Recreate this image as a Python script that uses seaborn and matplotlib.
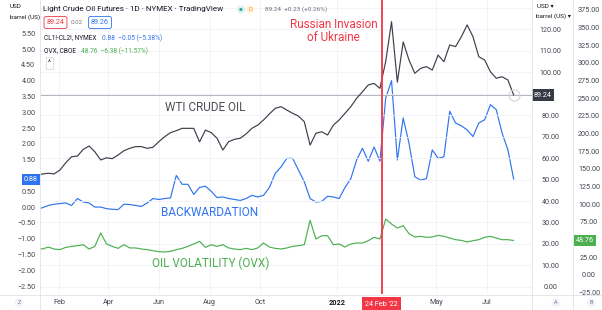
import numpy as np
import pandas as pd
import seaborn as sns
import matplotlib.pyplot as plt
from matplotlib.lines import Line2D
from matplotlib import transforms

W, H = 602, 310

# weekly closes (Tuesdays)
dates = pd.date_range("2021-01-05", "2022-08-02", freq="W-TUE")
wti = [51.6, 52.6, 52.9, 52.6, 54.4, 57.8, 60.6, 60.9, 64.0, 65.6,
       62.9, 59.1, 60.1, 59.7, 61.4, 63.4, 64.5, 65.3, 65.3, 64.5,
       65.0, 67.6, 69.9, 71.8, 72.7, 73.8, 73.8, 73.8, 67.5, 73.0,
       71.8, 69.2, 63.7, 67.6, 68.7, 69.2, 71.2, 73.8, 75.3, 77.7,
       80.5, 83.1, 83.9, 82.3, 80.8, 79.5, 76.9, 66.0, 71.5, 72.2,
       70.7, 75.3, 77.7, 80.8, 83.9, 87.8, 90.8, 94.0, 94.7, 92.4,
       105.0, 123.4, 95.3, 114.0, 105.6, 99.4, 101.7, 102.5, 100.9, 107.9,
       104.8, 112.6, 111.8, 116.4, 121.9, 116.4, 107.1, 105.6, 100.1, 97.1,
       97.8, 96.3, 89.24]
spread = [-0.08, -0.02, 0.05, 0.09, 0.11, 0.13, 0.05, 0.27, 0.16, 0.13,
          0.00, 0.00, -0.05, -0.07, -0.08, 0.09, 0.08, 0.05, 0.02, 0.13,
          0.27, 0.24, 0.27, 0.29, 1.00, 0.72, 0.72, 0.40, 0.62, 0.66,
          0.50, 0.30, 0.32, 0.27, 0.24, 0.21, 0.27, 0.37, 0.32, 0.37,
          0.62, 1.06, 1.27, 1.54, 1.54, 1.17, 0.80, 0.27, 0.16, 0.18,
          0.34, 0.32, 0.27, 0.62, 0.90, 1.49, 1.86, 1.45, 1.90, 1.45,
          3.45, 4.00, 1.49, 2.82, 2.02, 0.96, 0.85, 0.90, 1.81, 1.54,
          1.59, 3.03, 2.66, 2.57, 2.44, 2.23, 2.66, 2.76, 3.24, 3.08,
          2.34, 1.81, 0.88]
ovx = [38.2, 36.7, 39.5, 36.7, 35.8, 39.0, 40.4, 41.4, 42.8, 36.7,
       40.4, 59.4, 43.8, 40.4, 37.6, 42.8, 38.2, 38.2, 36.7, 35.8,
       34.3, 32.9, 32.5, 33.4, 35.8, 37.6, 40.4, 43.8, 47.5, 39.0,
       42.8, 40.4, 42.8, 38.2, 36.7, 35.8, 37.6, 35.8, 38.2, 45.2,
       39.5, 37.6, 36.7, 38.2, 40.4, 41.4, 42.8, 77.2, 50.9, 55.4,
       55.5, 42.8, 43.8, 39.5, 43.8, 45.2, 45.2, 48.5, 53.2, 50.9,
       79.0, 72.0, 66.4, 69.7, 58.4, 53.7, 54.6, 53.2, 53.7, 56.0,
       54.6, 52.3, 49.9, 48.9, 46.6, 48.5, 49.9, 53.2, 54.6, 52.3,
       49.9, 49.9, 48.76]

invasion = pd.Timestamp("2022-02-24")
month_ticks = ["2021-02-01", "2021-04-01", "2021-06-01", "2021-08-01",
               "2021-10-01", "2022-01-01", "2022-05-01", "2022-07-01"]
month_labels = ["Feb", "Apr", "Jun", "Aug", "Oct", "2022", "May", "Jul"]

DARK = "#3c3f48"
BLUE = "#2e74f0"
GREEN = "#4caf50"
RED = "#f23645"
TXT = "#434651"
GRID = "#eef1f6"
SEP = "#e0e3eb"

sns.set_theme(style="white")
plt.rcParams["font.family"] = ["Roboto", "DejaVu Sans"]

df = pd.DataFrame({"date": dates, "wti": wti, "spread": spread, "ovx": ovx})

fig = plt.figure(figsize=(W / 100, H / 100), dpi=100)
ax = fig.add_axes([40 / W, 16 / H, 492 / W, 294 / H])
axA = ax.twinx()
axB = ax.twinx()

sns.lineplot(data=df, x="date", y="spread", ax=ax, color=BLUE, linewidth=0.85)
sns.lineplot(data=df, x="date", y="wti", ax=axA, color=DARK, linewidth=0.85)
sns.lineplot(data=df, x="date", y="ovx", ax=axB, color=GREEN, linewidth=0.85)

ax.set_xlim(pd.Timestamp("2021-01-09"), pd.Timestamp("2022-08-24"))
ax.set_ylim(-2.75, 6.55)
axA.set_ylim(-3.26, 133.5)
axB.set_ylim(-26.9, 388.7)

def fmt(v):
    return f"{v:.2f}".replace("-", "\u2212")

# left scale (spread)
lt = np.arange(-2.5, 6.51, 0.5)
ax.set_yticks(lt, ["" if round(v, 2) in (1.0, 6.0, 6.5) else fmt(v) for v in lt])
ax.tick_params(axis="y", length=0, pad=3.4, labelsize=5.2, labelcolor=TXT)

# right scale A (WTI)
at = np.arange(0, 131, 10)
axA.set_yticks(at, ["" if v in (90, 130) else fmt(v) for v in at], ha="center")
axA.tick_params(axis="y", length=0, pad=13.3, labelsize=5.2, labelcolor=TXT)

# right scale B (OVX), spine offset in points (41 px)
axB.spines["right"].set_position(("outward", 29.5))
bt = np.arange(-25, 376, 25)
axB.set_yticks(bt, ["" if v == 50 else fmt(v) for v in bt], ha="center")
axB.tick_params(axis="y", length=0, pad=11.5, labelsize=5.2, labelcolor=TXT)

ax.set_xticks(pd.to_datetime(month_ticks), month_labels)
ax.tick_params(axis="x", length=0, pad=3.5, labelsize=5.2, labelcolor=TXT)
for lbl in ax.get_xticklabels():
    if lbl.get_text() == "2022":
        lbl.set_fontweight("bold")
        lbl.set_color("#131722")

for a in (ax, axA, axB):
    a.set_xlabel("")
    a.set_ylabel("")
    for s in a.spines.values():
        s.set_visible(False)

ax.xaxis.grid(True, color=GRID, linewidth=0.6)
axA.yaxis.grid(True, color=GRID, linewidth=0.6)
axA.set_axisbelow(True)

# last price line + marker
axA.axhline(wti[-1], color="#b2b5be", linewidth=0.7, zorder=1)
axA.plot(dates[-1], wti[-1], marker="o", ms=8, mfc="none", mec="#d1d4dc", mew=0.8)
axB.axvline(invasion, color=RED, linewidth=1.3)

# value boxes on the scales
tl = transforms.blended_transform_factory(fig.transFigure, ax.transData)
ax.text(38 / W, spread[-1], fmt(spread[-1]), transform=tl, ha="right", va="center",
        color="white", fontsize=5.2, bbox=dict(boxstyle="square,pad=0.3", fc=BLUE, ec="none"))
ta = transforms.blended_transform_factory(fig.transFigure, axA.transData)
axA.text(534 / W, wti[-1], fmt(wti[-1]), transform=ta, ha="left", va="center",
         color="white", fontsize=5.2, bbox=dict(boxstyle="square,pad=0.3", fc="#363a45", ec="none"))
tb = transforms.blended_transform_factory(fig.transFigure, axB.transData)
axB.text(576 / W, ovx[-1], fmt(ovx[-1]), transform=tb, ha="left", va="center",
         color="white", fontsize=5.2, bbox=dict(boxstyle="square,pad=0.3", fc=GREEN, ec="none"))
tx = transforms.blended_transform_factory(ax.transData, fig.transFigure)
ax.text(invasion, 1 - 304 / H, "24 Feb '22", transform=tx, ha="center", va="center",
        color="white", fontsize=5.2, bbox=dict(boxstyle="square,pad=0.45", fc=RED, ec="none"))

# panel separators
for x in (40, 532, 573):
    fig.add_artist(Line2D([x / W, x / W], [0, 1], transform=fig.transFigure, color=SEP, lw=0.6))
fig.add_artist(Line2D([0, 1], [1 - 295 / H, 1 - 295 / H], transform=fig.transFigure, color=SEP, lw=0.6))

def ftext(x, y, s, **kw):
    kw.setdefault("va", "center")
    kw.setdefault("fontsize", 5)
    kw.setdefault("color", "#131722")
    return fig.text(x / W, 1 - y / H, s, **kw)

# chart annotations
ftext(205, 107, "WTI CRUDE OIL", ha="center", fontsize=8.5, color="#4d4f56")
ftext(209.5, 212, "BACKWARDATION", ha="center", fontsize=8.5, color=BLUE)
ftext(211, 263, "OIL VOLATILITY (OVX)", ha="center", fontsize=8.5, color=GREEN)
ftext(333.5, 31, "Russian Invasion\nof Ukraine", ha="center", fontsize=8.5, color=RED, linespacing=1.05)

# header / legend
ftext(10, 6, "USD", fontsize=4.6)
ftext(10, 17, "barrel (US)", fontsize=4.6)
ftext(537, 6, "USD \u25be", fontsize=4.6)
ftext(536, 16.5, "barrel (US) \u25be", fontsize=4.6)
ftext(43, 9.5, "Light Crude Oil Futures \u00b7 1D \u00b7 NYMEX \u00b7 TradingView", fontsize=5.8)
ftext(241, 9.5, "\u25cf", ha="center", fontsize=3.2, color="#26a69a",
      bbox=dict(boxstyle="circle,pad=0.5", fc="#e0f2f1", ec="none"))
ftext(250.5, 9.5, "D", ha="center", fontsize=4.3, color="#ff9800",
      bbox=dict(boxstyle="circle,pad=0.25", fc="#fff3e0", ec="none"))
ftext(265, 9.5, "89.24  +0.23 (+0.26%)", fontsize=4.6, color="#6a6d78")
ftext(55.5, 22.5, "89.24", ha="center", fontsize=5.2, color=RED,
      bbox=dict(boxstyle="round,pad=0.35,rounding_size=0.3", fc="white", ec=RED, lw=0.6))
ftext(77, 22.5, "0.02", ha="center", fontsize=4.5, color="#787b86")
ftext(100, 22.5, "89.26", ha="center", fontsize=5.2, color=BLUE,
      bbox=dict(boxstyle="round,pad=0.35,rounding_size=0.3", fc="white", ec=BLUE, lw=0.6))
ftext(44, 38, "CL1!-CL2!, NYMEX", fontsize=4.7)
ftext(102, 38, "0.88  \u22120.05 (\u22125.38%)", fontsize=4.7, color=BLUE)
ftext(44, 51, "OVX, CBOE", fontsize=4.7)
ftext(81, 51, "48.76  \u22126.38 (\u221211.57%)", fontsize=4.7, color=GREEN)
ftext(49.5, 63, "^", ha="center", fontsize=5,
      bbox=dict(boxstyle="square,pad=0.35", fc="white", ec="#d1d4dc", lw=0.5))

for x, s in ((19, "Z"), (556, "A"), (591, "B")):
    ftext(x, 303, s, ha="center", fontsize=4, color="#787b86",
          bbox=dict(boxstyle="circle,pad=0.35", fc="#f0f3fa", ec="none"))

fig.savefig("out.png", dpi=100)
